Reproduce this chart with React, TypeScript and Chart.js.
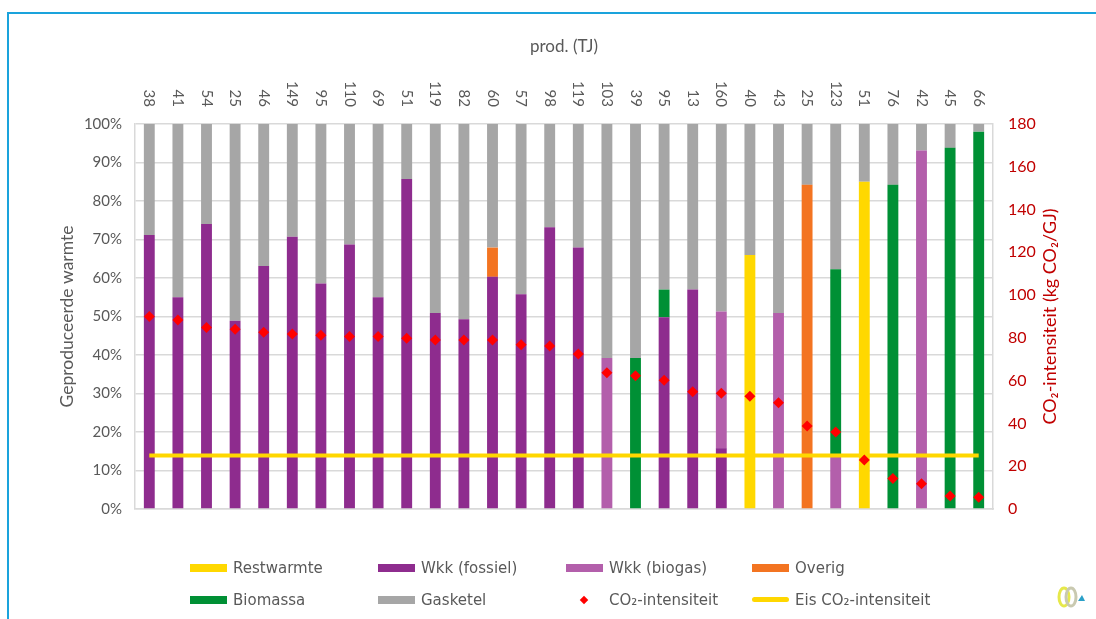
import React, { useEffect, useRef } from 'react';
import { Chart, registerables } from 'chart.js';
Chart.register(...registerables);

// production per installation (TJ) – shown above the bars
const prodTJ = ['38','41','54','25','46','149','95','110','69','51','119','82','60','57','98','119','103','39','95','13','160','40','43','25','123','51','76','42','45','66'];

// share of produced heat (%) per source
const restwarmte = [0,0,0,0,0,0,0,0,0,0,0,0,0,0,0,0,0,0,0,0,0,66.0,0,0,0,85.0,0,0,0,0];
const wkkFossiel = [71.2,55.0,74.0,48.9,63.1,70.7,58.6,68.7,55.0,85.7,50.9,49.3,60.3,55.8,73.2,67.9,0,0,49.8,57.0,15.8,0,0,0,0,0,0,0,0,0];
const wkkBiogas = [0,0,0,0,0,0,0,0,0,0,0,0,0,0,0,0,39.2,0,0,0,35.5,0,50.9,0,14.0,0,0,93.1,0,0];
const overig = [0,0,0,0,0,0,0,0,0,0,0,0,7.6,0,0,0,0,0,0,0,0,0,0,84.2,0,0,0,0,0,0];
const biomassa = [0,0,0,0,0,0,0,0,0,0,0,0,0,0,0,0,0,39.2,7.2,0,0,0,0,0,48.3,0,84.2,0,93.8,98.0];
const gasketel = [28.8,45.0,26.0,51.1,36.9,29.3,41.4,31.3,45.0,14.3,49.1,50.7,32.1,44.2,26.8,32.1,60.8,60.8,43.0,43.0,48.7,34.0,49.1,15.8,37.7,15.0,15.8,6.9,6.2,2.0];

// CO2 intensity (kg CO2/GJ)
const co2Intensiteit = [90.0,88.4,84.8,84.0,82.6,81.8,81.2,80.6,80.6,79.8,79.0,79.0,79.0,76.8,76.2,72.5,63.7,62.3,60.2,54.8,54.1,52.7,49.7,38.8,36.0,22.9,14.3,11.8,6.1,5.5];
const eisCo2 = [25,25,25,25,25,25,25,25,25,25,25,25,25,25,25,25,25,25,25,25,25,25,25,25,25,25,25,25,25,25];

const leftTicks = ['0%','10%','20%','30%','40%','50%','60%','70%','80%','90%','100%'];

const C = {
  rest: '#ffd800',
  fossiel: '#8e2c8e',
  biogas: '#b35fab',
  overig: '#f37421',
  bio: '#009035',
  gas: '#a6a6a6',
  co2: '#ff0000',
  eis: '#ffd700',
};

const GRAY_TXT = '#595959';
const RED_TXT = '#c00000';

const overlayPlugin = {
  id: 'overlay',
  afterDraw(chart: any) {
    const { ctx } = chart;
    const xs = chart.scales.x;
    ctx.save();
    ctx.fillStyle = GRAY_TXT;
    ctx.font = '15px Lato';
    prodTJ.forEach((lab, i) => {
      const x = xs.getPixelForValue(i);
      ctx.save();
      ctx.translate(x, 107);
      ctx.rotate(Math.PI / 2);
      ctx.textAlign = 'right';
      ctx.textBaseline = 'middle';
      ctx.fillText(lab, 0, 0);
      ctx.restore();
    });
    ctx.textAlign = 'center';
    ctx.textBaseline = 'middle';
    ctx.font = '17px Lato';
    ctx.fillText('prod. (TJ)', (chart.chartArea.left + chart.chartArea.right) / 2, 47);
    // right axis title
    ctx.save();
    ctx.translate(1050, (chart.chartArea.top + chart.chartArea.bottom) / 2);
    ctx.rotate(-Math.PI / 2);
    ctx.fillStyle = RED_TXT;
    ctx.font = '18px Lato';
    ctx.fillText('CO₂-intensiteit (kg CO₂/GJ)', 0, 0);
    ctx.restore();
    ctx.restore();
  },
};

type LegendItem = { label: string; color: string; kind: 'box' | 'diamond' | 'line'; x: number; y: number };

const legendItems: LegendItem[] = [
  { label: 'Restwarmte', color: C.rest, kind: 'box', x: 190, y: 568 },
  { label: 'Wkk (fossiel)', color: C.fossiel, kind: 'box', x: 378, y: 568 },
  { label: 'Wkk (biogas)', color: C.biogas, kind: 'box', x: 566, y: 568 },
  { label: 'Overig', color: C.overig, kind: 'box', x: 752, y: 568 },
  { label: 'Biomassa', color: C.bio, kind: 'box', x: 190, y: 600 },
  { label: 'Gasketel', color: C.gas, kind: 'box', x: 378, y: 600 },
  { label: 'CO₂-intensiteit', color: C.co2, kind: 'diamond', x: 566, y: 600 },
  { label: 'Eis CO₂-intensiteit', color: C.eis, kind: 'line', x: 752, y: 600 },
];

export default function App() {
  const ref = useRef<HTMLCanvasElement>(null);

  useEffect(() => {
    const bar = (label: string, data: number[], color: string) => ({
      type: 'bar' as const,
      label,
      data,
      backgroundColor: color,
      borderWidth: 0,
      yAxisID: 'y',
      order: 2,
      categoryPercentage: 1,
      barPercentage: 0.38,
    });
    const chart = new Chart(ref.current!, {
      type: 'bar',
      data: {
        labels: prodTJ,
        datasets: [
          {
            type: 'line',
            label: 'CO₂-intensiteit',
            data: co2Intensiteit,
            yAxisID: 'y1',
            showLine: false,
            pointStyle: 'rectRot',
            pointRadius: 5.5,
            pointBackgroundColor: C.co2,
            pointBorderColor: C.co2,
            pointBorderWidth: 0,
            order: 0,
          } as any,
          {
            type: 'line',
            label: 'Eis CO₂-intensiteit',
            data: eisCo2,
            yAxisID: 'y1',
            borderColor: C.eis,
            borderWidth: 4,
            pointRadius: 0,
            fill: false,
            order: 1,
          } as any,
          bar('Restwarmte', restwarmte, C.rest),
          bar('Wkk (fossiel)', wkkFossiel, C.fossiel),
          bar('Wkk (biogas)', wkkBiogas, C.biogas),
          bar('Overig', overig, C.overig),
          bar('Biomassa', biomassa, C.bio),
          bar('Gasketel', gasketel, C.gas),
        ],
      },
      options: {
        responsive: false,
        animation: false,
        layout: { padding: { top: 124, left: 0, right: 0, bottom: 0 } },
        plugins: {
          legend: { display: false },
          tooltip: { enabled: false },
          title: { display: false },
        },
        scales: {
          x: {
            stacked: true,
            grid: { display: false },
            border: { display: true, color: '#d9d9d9', width: 1.5 },
            ticks: { display: false },
            afterFit: (s: any) => { s.height = 110; },
          },
          y: {
            stacked: true,
            position: 'left',
            min: 0,
            max: 100,
            ticks: {
              stepSize: 10,
              padding: 13,
              color: GRAY_TXT,
              font: { family: 'Lato', size: 15 },
              callback: (_v: any, i: number) => leftTicks[i],
            },
            grid: { color: '#d9d9d9', lineWidth: 1.5, drawTicks: false },
            border: { display: true, color: '#d9d9d9', width: 1.5 },
            title: {
              display: true,
              text: 'Geproduceerde warmte',
              color: GRAY_TXT,
              font: { family: 'Lato', size: 17.5 },
              padding: { top: 57, bottom: 0 },
            },
            afterFit: (s: any) => { s.width = 135; },
          },
          y1: {
            position: 'right',
            min: 0,
            max: 180,
            ticks: {
              stepSize: 20,
              padding: 15,
              color: RED_TXT,
              font: { family: 'Lato', size: 16 },
            },
            grid: { display: false, drawTicks: false },
            border: { display: true, color: '#d9d9d9', width: 1.5 },
            afterFit: (s: any) => { s.width = 103; },
          },
        },
      },
      plugins: [overlayPlugin],
    });
    return () => chart.destroy();
  }, []);

  return (
    <div style={{ position: 'absolute', left: 0, top: 0, width: 1096, height: 619, overflow: 'hidden', background: '#fff' }}>
      <div style={{ position: 'absolute', left: 7, top: 12, width: 1200, height: 700, borderTop: '2px solid #1aa3dc', borderLeft: '2px solid #1aa3dc' }} />
      <canvas ref={ref} width={1096} height={619} style={{ position: 'absolute', left: 0, top: 0 }} />
      {legendItems.map((it) => (
        <div key={it.label} style={{ position: 'absolute', left: it.x, top: it.y - 10, height: 20, display: 'flex', alignItems: 'center', fontFamily: '"DejaVu Sans", sans-serif', fontSize: 15, color: GRAY_TXT, whiteSpace: 'nowrap' }}>
          <div style={{ width: 37, height: 20, marginRight: 6, position: 'relative' }}>
            {it.kind === 'box' && <div style={{ position: 'absolute', left: 0, top: 6, width: 37, height: 8, background: it.color }} />}
            {it.kind === 'line' && <div style={{ position: 'absolute', left: 0, top: 7, width: 37, height: 5, borderRadius: 3, background: it.color }} />}
            {it.kind === 'diamond' && <div style={{ position: 'absolute', left: 15, top: 7, width: 6, height: 6, transform: 'rotate(45deg)', background: it.color }} />}
          </div>
          <span>{it.label}</span>
        </div>
      ))}
      <svg style={{ position: 'absolute', left: 1054, top: 585 }} width={38} height={24} viewBox="0 0 38 24">
        <ellipse cx={10} cy={12} rx={5} ry={9} fill="none" stroke="#e6e84a" strokeWidth={3} />
        <ellipse cx={17} cy={12} rx={5} ry={9} fill="none" stroke="#c9c9b0" strokeWidth={3} />
        <polygon points="24,16 28,10 31,16" fill="#2aa0c8" />
      </svg>
    </div>
  );
}
